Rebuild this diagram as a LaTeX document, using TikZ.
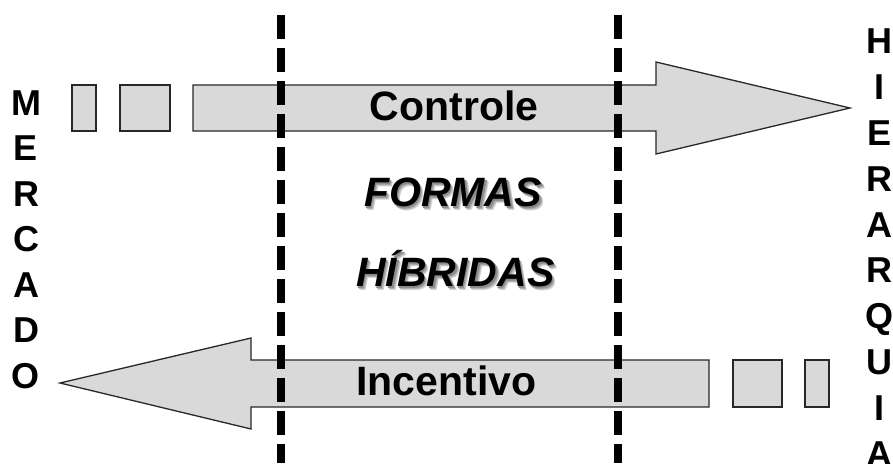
\documentclass[tikz,border=0pt]{standalone}
\usepackage{fontspec}
\setmainfont{Liberation Sans}
\usepackage{graphicx}
\newcommand{\shadowtext}[1]{%
  \makebox[0pt][l]{\hspace{3.5pt}\raisebox{-3.5pt}{\color{black!18}#1}}%
  \makebox[0pt][l]{\hspace{2.5pt}\raisebox{-2.5pt}{\color{black!30}#1}}%
  \makebox[0pt][l]{\hspace{1.5pt}\raisebox{-1.5pt}{\color{black!45}#1}}%
  #1}
\begin{document}
\begin{tikzpicture}[x=1pt,y=-1pt,
  arrowshape/.style={fill={rgb,255:red,217;green,217;blue,217},draw={rgb,255:red,40;green,40;blue,40},line width=1.3pt,line join=miter},
  divider/.style={line width=8pt,dash pattern=on 24pt off 9pt,black},
  sidelabel/.style={font=\fontsize{36}{36}\selectfont\bfseries,anchor=base,inner sep=0pt},
  arrowlabel/.style={font=\fontsize{41}{41}\selectfont\bfseries,anchor=base,inner sep=0pt},
  centerlabel/.style={font=\fontsize{41}{41}\selectfont\bfseries\itshape,anchor=base west,inner sep=0pt}]
\useasboundingbox (0,0) rectangle (893,463);
% top arrow: Controle
\draw[arrowshape] (72,85) rectangle (96,131);
\draw[arrowshape] (120,85) rectangle (170,131);
\draw[arrowshape] (193,85) -- (656,85) -- (656,62) -- (850,108) -- (656,154) -- (656,131) -- (193,131) -- cycle;
% bottom arrow: Incentivo
\draw[arrowshape] (709,360) -- (251,360) -- (251,338) -- (60,383) -- (251,429) -- (251,407) -- (709,407) -- cycle;
\draw[arrowshape] (733,360) rectangle (782,407);
\draw[arrowshape] (805,360) rectangle (829,407);
% dividers
\coordinate (d1a) at (280.5,15);
\coordinate (d1b) at (280.5,463);
\coordinate (d2a) at (617.5,15);
\coordinate (d2b) at (617.5,463);
\draw[divider] (d1a) -- (d1b);
\draw[divider] (d2a) -- (d2b);
% arrow labels
\node[arrowlabel] (controle) at (454,120) {Controle};
\node[arrowlabel] (incentivo) at (446.5,395) {Incentivo};
% central text with shadow
\node[centerlabel] (formas) at (364,206.7) {\shadowtext{FORMAS}};
\node[centerlabel] (hibridas) at (356,286.7) {\shadowtext{HÍBRIDAS}};
% side letters
\foreach \L [count=\i from 0] in {M,E,R,C,A,D,O}
  \node[sidelabel] (m\i) at (26,{102.5+45.5*\i+12.9}) {\L};
\foreach \L [count=\i from 0] in {H,I,E,R,A,R,Q,U,I,A}
  \node[sidelabel] (h\i) at (879,{41+45.8*\i+12.9}) {\L};
\end{tikzpicture}
\end{document}
